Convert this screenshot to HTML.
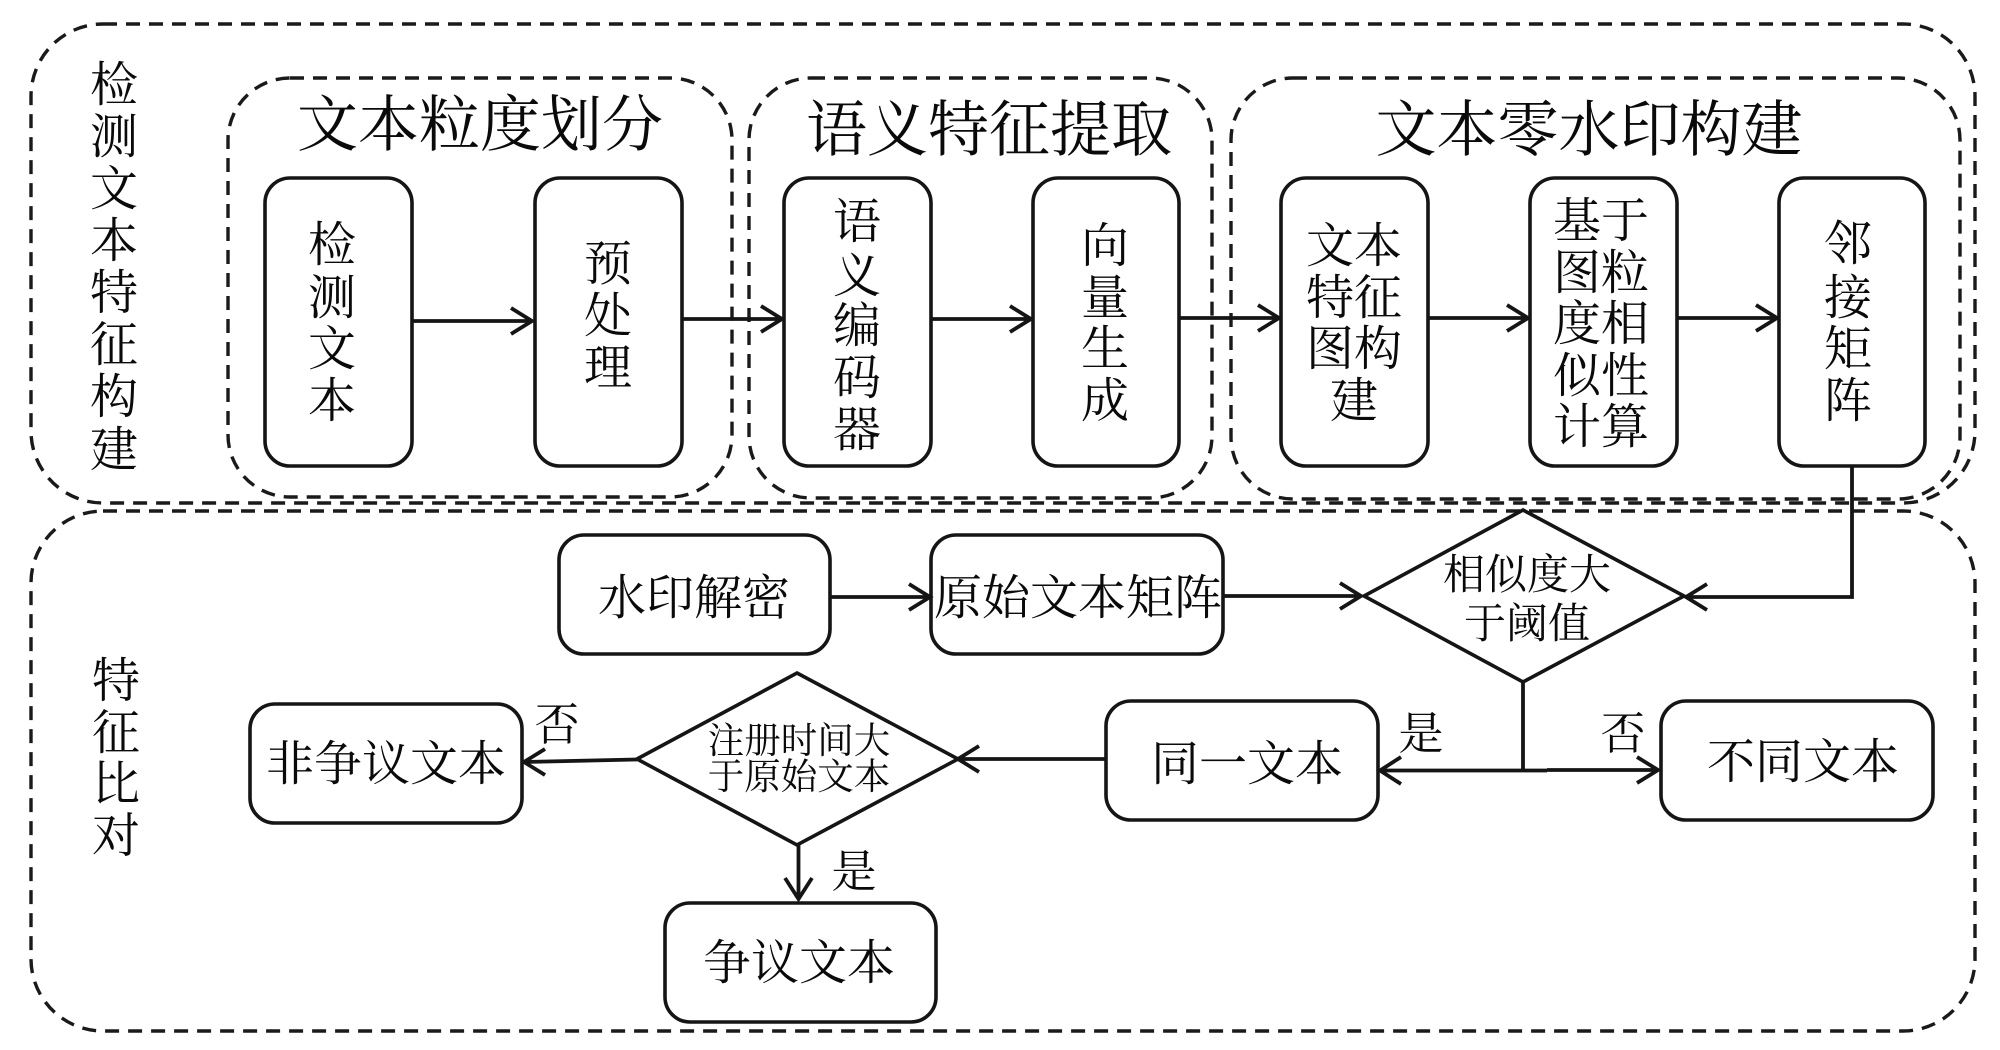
<!DOCTYPE html>
<html lang="zh"><head><meta charset="utf-8"><style>
html,body{margin:0;padding:0;background:#fff}
svg{display:block}
text{font-family:"Liberation Serif","Noto Serif CJK SC",serif;fill:#0a0a0a;text-anchor:middle;dominant-baseline:central}
.d{fill:none;stroke:#1a1a1a;stroke-width:3.4;stroke-dasharray:14 9}
.b{fill:#fff;stroke:#151515;stroke-width:3.6}
.l{fill:none;stroke:#151515;stroke-width:3.8}
.f47{font-size:48px}.f60{font-size:61px}.f41{font-size:42px}.f36{font-size:36.5px}.f44{font-size:45px}
</style></head><body>
<svg width="2000" height="1050" viewBox="0 0 2000 1050" xmlns="http://www.w3.org/2000/svg">
<rect width="2000" height="1050" fill="#fff"/>
<rect class="d" x="31" y="24" width="1944" height="479" rx="72" ry="72"/>
<rect class="d" x="31" y="511" width="1944" height="520" rx="72" ry="72"/>
<rect class="d" x="228" y="78" width="504" height="419" rx="62" ry="62"/>
<rect class="d" x="749" y="78" width="463" height="420" rx="62" ry="62"/>
<rect class="d" x="1231" y="78" width="729" height="421" rx="62" ry="62"/>

<g class="b">
<rect class="b" x="265" y="178" width="147" height="288" rx="25"/>
<rect class="b" x="535" y="178" width="147" height="288" rx="25"/>
<rect class="b" x="784" y="178" width="147" height="288" rx="25"/>
<rect class="b" x="1033" y="178" width="146" height="288" rx="25"/>
<rect class="b" x="1281" y="178" width="147" height="288" rx="25"/>
<rect class="b" x="1530" y="178" width="147" height="288" rx="25"/>
<rect class="b" x="1779" y="178" width="146" height="288" rx="25"/>
<rect class="b" x="559" y="535" width="271" height="119" rx="25"/>
<rect class="b" x="931" y="535" width="292" height="119" rx="25"/>
<rect class="b" x="1106" y="701" width="272" height="119" rx="25"/>
<rect class="b" x="1661" y="701" width="272" height="119" rx="25"/>
<rect class="b" x="250" y="704" width="272" height="119" rx="25"/>
<rect class="b" x="665" y="903" width="271" height="119" rx="25"/>
<polygon class="b" points="1523,510 1684,596 1523,682 1364,596"/>
<polygon class="b" points="797,673 958,759 797,845 637,759"/>
</g>

<g class="l">
<path d="M412 321H531M511 308L532 321L511 334"/>
<path d="M682 319H781M761 306L782 319L761 332"/>
<path d="M931 319H1030M1010 306L1031 319L1010 332"/>
<path d="M1179 318H1278M1258 305L1279 318L1258 331"/>
<path d="M1428 318H1527M1507 305L1528 318L1507 331"/>
<path d="M1677 318H1776M1756 305L1777 318L1756 331"/>
<path d="M1852 466V597H1686"/>
<path d="M1707 584L1686 597L1707 610"/>
<path d="M830 597H929M909 584L930 597L909 610"/>
<path d="M1223 596H1361M1340 583L1361 596L1340 609"/>
<path d="M1523 682V770"/>
<path d="M1380 770.5H1547M1547 770H1657M1637 757L1658 770L1637 783"/>
<path d="M1401 757L1380 770.5L1401 784"/>
<path d="M1106 759H959"/>
<path d="M979 746L958 759L979 772"/>
<path d="M637 759.5L524 762M545 749L524 762L545 775"/>
<path d="M798.5 845V899M785 878L798.5 899L812 878"/>
</g>

<g class="f47" transform="translate(0,3.5)">
<text x="114" y="82">检</text><text x="114" y="134">测</text><text x="114" y="186">文</text><text x="114" y="238">本</text><text x="114" y="290">特</text><text x="114" y="342">征</text><text x="114" y="394">构</text><text x="114" y="447">建</text>
<text x="116" y="678">特</text><text x="116" y="730">征</text><text x="116" y="781">比</text><text x="116" y="833">对</text>

<text x="332" y="242">检</text><text x="332" y="295">测</text><text x="332" y="346">文</text><text x="332" y="398">本</text>
<text x="608" y="261">预</text><text x="608" y="313">处</text><text x="608" y="365">理</text>
<text x="857" y="219">语</text><text x="857" y="273">义</text><text x="857" y="323">编</text><text x="857" y="375">码</text><text x="857" y="427">器</text>
<text x="1105" y="243">向</text><text x="1105" y="295">量</text><text x="1105" y="346">生</text><text x="1105" y="398">成</text>
<text x="1330" y="243">文</text><text x="1378" y="243">本</text>
<text x="1330" y="295">特</text><text x="1378" y="295">征</text>
<text x="1330" y="346">图</text><text x="1378" y="346">构</text>
<text x="1354" y="398">建</text>
<text x="1577" y="218">基</text><text x="1625" y="218">于</text>
<text x="1577" y="270">图</text><text x="1625" y="270">粒</text>
<text x="1577" y="321">度</text><text x="1625" y="321">相</text>
<text x="1577" y="373">似</text><text x="1625" y="373">性</text>
<text x="1577" y="424">计</text><text x="1625" y="424">算</text>
<text x="1848" y="241">邻</text><text x="1848" y="295">接</text><text x="1848" y="346">矩</text><text x="1848" y="398">阵</text>

<text x="694" y="595">水印解密</text>
<text x="1078" y="595">原始文本矩阵</text>
<text x="1247" y="761">同一文本</text>
<text x="1803" y="759">不同文本</text>
<text x="386" y="761">非争议文本</text>
<text x="799" y="960">争议文本</text>
</g>
<g class="f60" transform="translate(0,4)">
<text x="480" y="122">文本粒度划分</text>
<text x="989" y="127">语义特征提取</text>
<text x="1589" y="127">文本零水印构建</text>
</g>
<g class="f41" transform="translate(0,3)">
<text x="1527" y="573">相似度大</text>
<text x="1527" y="622">于阈值</text>
</g>
<g class="f36" transform="translate(0,1.5)">
<text x="799" y="739">注册时间大</text>
<text x="799" y="775">于原始文本</text>
</g>
<g class="f44" transform="translate(0,3)">
<text x="557" y="722">否</text>
<text x="854" y="869">是</text>
<text x="1421" y="731">是</text>
<text x="1623" y="731">否</text>
</g>
</svg>
</body></html>
